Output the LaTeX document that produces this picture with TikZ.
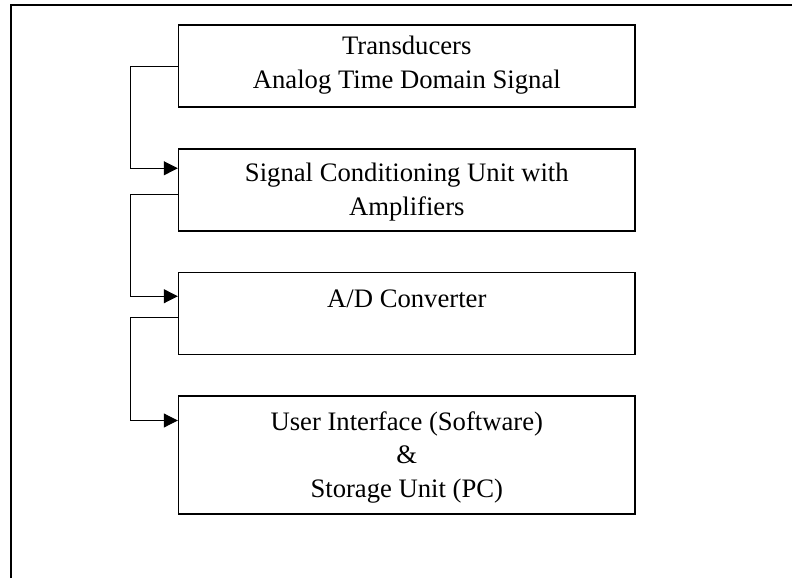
\documentclass[tikz,border=0pt]{standalone}
\usepackage{fontspec}
\setmainfont{Liberation Serif}
\usetikzlibrary{arrows.meta,positioning}

\begin{document}
\begin{tikzpicture}
    [
        x=0.75pt, y=-0.75pt,
        block/.style={draw, line width=1.1pt, minimum width=342.4pt, minimum height=61.5pt, inner sep=0pt},
        label text/.style={align=center, inner sep=0pt, font=\fontsize{20pt}{25pt}\selectfont},
        link/.style={draw, line width=0.75pt, -{Triangle[length=10.5pt, width=10.5pt]}},
        frame/.style={draw, line width=1pt}
    ]

    \useasboundingbox (0,0) rectangle (792,578);

    % outer frame
    \draw [frame] (11,578) -- (11,5) -- (792,5);

    % the four stages
    \node [block] (trans) at (406.8, 66) {};
    \node [block] (cond) at (406.8, 190) {};
    \node [block] (adc) at (406.8, 313.3) {};
    \node [block, minimum height=88.5pt] (user) at (406.8, 454.9) {};

    % texts, placed by the baseline of their last line
    \node [label text, anchor=base] (transTxt) at (406.8, 88) {Transducers\\Analog Time Domain Signal};
    \node [label text, anchor=base] (condTxt) at (406.8, 215) {Signal Conditioning Unit with\\Amplifiers};
    \node [label text, anchor=base] (adcTxt) at (406.8, 307) {A/D Converter};
    \node [label text, anchor=base] (userTxt) at (406.8, 497) {User Interface (Software)\\\&\\Storage Unit (PC)};

    % connectors
    \draw [link] (trans.west) -- ++(-47.5,0) |- ([yshift=-15pt]cond.north west);
    \draw [link] ([yshift=-3pt]cond.west) -- ++(-47.5,0) |- ([yshift=-18.5pt]adc.north west);
    \draw [link] ([yshift=-3.5pt]adc.west) -- ++(-47.5,0) |- ([yshift=-19pt]user.north west);
\end{tikzpicture}
\end{document}
